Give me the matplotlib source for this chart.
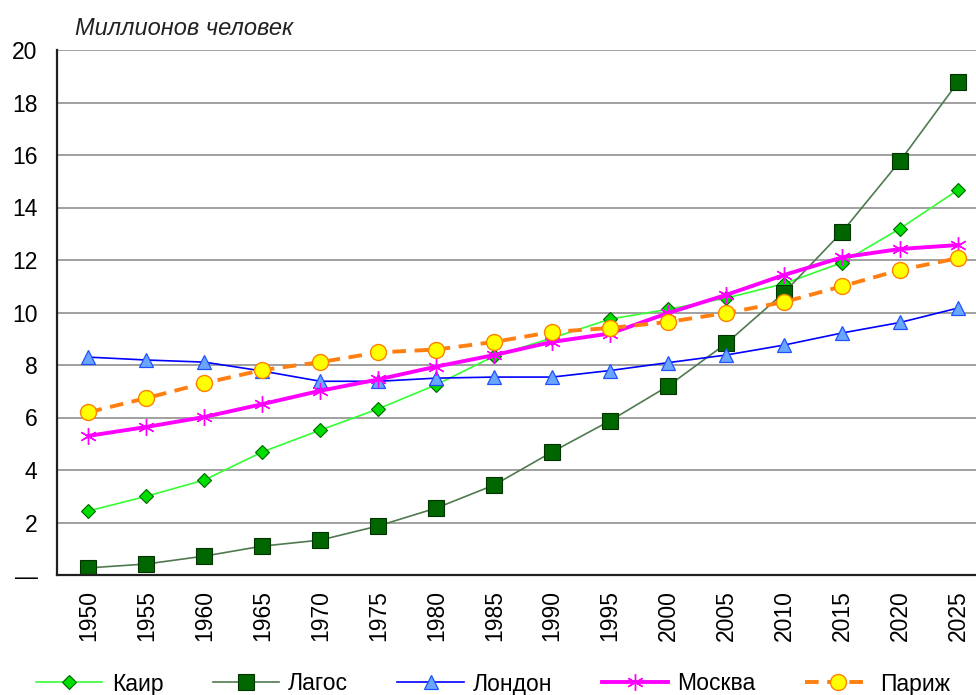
import matplotlib
matplotlib.use('Agg')
import matplotlib.pyplot as plt

plt.rcParams['font.family'] = ['Liberation Sans', 'DejaVu Sans']

# Годы и население (млн человек)
years = ['1950', '1955', '1960', '1965', '1970', '1975', '1980', '1985',
         '1990', '1995', '2000', '2005', '2010', '2015', '2020', '2025']
cairo = [2.44, 3.0, 3.62, 4.69, 5.52, 6.33, 7.25, 8.34,
         9.03, 9.75, 10.12, 10.55, 11.1, 11.9, 13.2, 14.67]
lagos = [0.27, 0.42, 0.72, 1.1, 1.33, 1.87, 2.55, 3.43,
         4.69, 5.88, 7.2, 8.82, 10.76, 13.07, 15.77, 18.78]
london = [8.3, 8.19, 8.11, 7.77, 7.38, 7.38, 7.5, 7.54,
          7.54, 7.79, 8.09, 8.38, 8.76, 9.22, 9.62, 10.17]
moscow = [5.3, 5.64, 6.02, 6.51, 7.02, 7.45, 7.94, 8.38,
          8.88, 9.2, 9.98, 10.67, 11.43, 12.1, 12.42, 12.57]
paris = [6.2, 6.74, 7.31, 7.81, 8.11, 8.48, 8.59, 8.88,
         9.26, 9.41, 9.64, 9.98, 10.4, 11.0, 11.62, 12.07]

ytick_vals = list(range(0, 21, 2))
ytick_labels = ['—'] + [str(v) for v in ytick_vals[1:]]

fig = plt.figure(figsize=(9.76, 6.95), dpi=100)
ax = fig.add_axes([57 / 976, (695 - 575) / 695, (976 - 57) / 976, (575 - 50) / 695])

x = list(range(len(years)))

ax.plot(x, cairo, color='#33ff33', lw=1.2, marker='D', ms=7.5,
        mfc='#00dd00', mec='#006400', mew=0.8, label='Каир')
ax.plot(x, lagos, color='#4f7a4f', lw=1.2, marker='s', ms=12,
        mfc='#006600', mec='#003300', mew=0.8, label='Лагос')
ax.plot(x, london, color='#0000ff', lw=1.2, marker='^', ms=9.5,
        mfc='#6aa6ff', mec='#2050ff', mew=0.9, label='Лондон')
ax.plot(x, moscow, color='#ff00ff', lw=2.8, marker=(6, 2, 0), ms=12,
        mec='#ff00ff', mew=1.0, label='Москва')
ax.plot(x, paris, color='#ff7f10', lw=2.8, ls=(0, (3.5, 2.2)), marker='o', ms=11.5,
        mfc='#ffff00', mec='#ff8000', mew=1.0, label='Париж')

ax.set_xlim(-0.543, 15.31)
ax.set_ylim(0, 20)
ax.set_xticks(x)
ax.set_xticklabels(years, rotation=90, fontsize=16.5)
ax.set_yticks(ytick_vals)
ax.set_yticklabels(ytick_labels, fontsize=16.5)
ax.tick_params(axis='both', length=0)
ax.tick_params(axis='y', pad=14)
ax.tick_params(axis='x', pad=11)

ax.grid(axis='y', color='#a0a0a0', lw=1.4)
ax.set_axisbelow(True)
for s in ['top', 'right']:
    ax.spines[s].set_visible(False)
for s in ['left', 'bottom']:
    ax.spines[s].set_color('#202020')
    ax.spines[s].set_linewidth(1.6)

fig.text(75 / 976, 1 - 35 / 695, 'Миллионов человек', fontsize=17,
         style='italic', color='#222222', va='baseline')

fig.legend(loc='center left', bbox_to_anchor=(36 / 976, 1 - 684 / 695), ncol=5,
           frameon=False, fontsize=16.5, handlelength=2.9, handletextpad=0.4,
           columnspacing=2.15, borderaxespad=0, borderpad=0)

fig.savefig('out.png', dpi=100)
